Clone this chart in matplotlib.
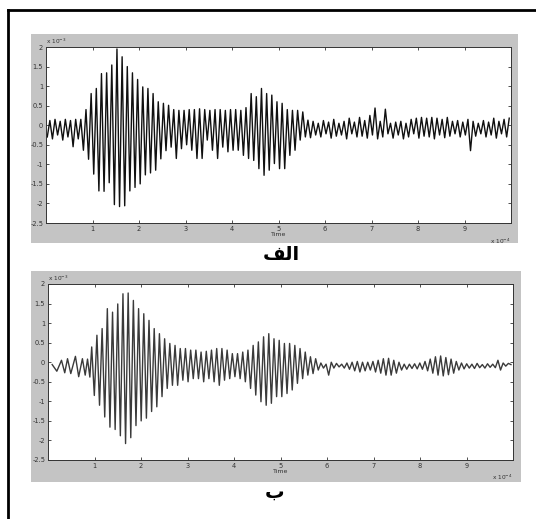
import numpy as np
import matplotlib
matplotlib.use('Agg')
import matplotlib.pyplot as plt
from matplotlib.patches import Rectangle
from matplotlib.lines import Line2D
from matplotlib.ticker import FormatStrFormatter

plt.rcParams['axes.unicode_minus'] = False
plt.rcParams['font.family'] = ['DejaVu Sans']

# x in units of 1e-4 s, y in units of 1e-3
x_ticks = [1, 2, 3, 4, 5, 6, 7, 8, 9]
y_ticks = [-2.5, -2, -1.5, -1, -0.5, 0, 0.5, 1, 1.5, 2]

# Arabic labels, written in presentation forms (visual order) since matplotlib does no shaping
label_top = '\uFED2\uFEDF\uFE8D'   # الف
label_bot = '\uFE8F'               # ب

# ---- panel (الف): raw record, one (trough, peak) pair per cycle ----
top_first = 0.0275
top_period = 0.111
top_lead = [(-0.30, 0.12), (-0.35, 0.15), (-0.25, 0.10), (-0.38, 0.15), (-0.30, 0.12),
            (-0.55, 0.15), (-0.35, 0.15)]
top_burst1 = [(-0.64, 0.40), (-0.87, 0.81), (-1.25, 0.94), (-1.68, 1.32), (-1.69, 1.34),
              (-1.47, 1.54), (-2.03, 1.95), (-2.08, 1.75), (-2.06, 1.50), (-1.68, 1.34),
              (-1.59, 1.17), (-1.50, 0.98), (-1.27, 0.94), (-1.22, 0.81), (-1.15, 0.60),
              (-0.86, 0.56), (-0.65, 0.51)]
top_mid = [(-0.56, 0.40), (-0.85, 0.38), (-0.60, 0.38), (-0.50, 0.40), (-0.64, 0.40),
           (-0.85, 0.42), (-0.85, 0.40), (-0.38, 0.38), (-0.64, 0.40), (-0.85, 0.40),
           (-0.56, 0.38), (-0.68, 0.40), (-0.64, 0.40), (-0.64, 0.38), (-0.77, 0.45)]
top_burst2 = [(-0.85, 0.81), (-0.90, 0.73), (-1.11, 0.94), (-1.28, 0.81), (-1.15, 0.77),
              (-0.98, 0.60), (-1.11, 0.56), (-1.11, 0.40), (-0.77, 0.38), (-0.64, 0.38),
              (-0.38, 0.34), (-0.30, 0.13)]
top_tail = [(-0.32, 0.10), (-0.25, 0.05), (-0.30, 0.12), (-0.22, 0.08), (-0.33, 0.15),
            (-0.28, 0.05), (-0.25, 0.10), (-0.35, 0.18), (-0.22, 0.08), (-0.30, 0.20),
            (-0.28, 0.12), (-0.33, 0.25), (-0.25, 0.44), (-0.35, 0.10), (-0.30, 0.41),
            (-0.22, 0.05), (-0.33, 0.08), (-0.25, 0.10), (-0.35, 0.05), (-0.30, 0.15),
            (-0.22, 0.18), (-0.33, 0.20), (-0.28, 0.18), (-0.30, 0.20), (-0.35, 0.18),
            (-0.25, 0.15), (-0.32, 0.20), (-0.28, 0.10), (-0.22, 0.12), (-0.30, 0.08),
            (-0.25, 0.15), (-0.65, 0.10), (-0.28, 0.05), (-0.22, 0.12), (-0.30, 0.08),
            (-0.25, 0.18), (-0.33, 0.10), (-0.22, 0.15), (-0.30, 0.18)]

# ---- panel (ب): filtered record, lead-in points then one (peak, trough) pair per cycle ----
bot_lead_t = [0.09, 0.19, 0.29, 0.36, 0.42, 0.49, 0.59, 0.66, 0.74, 0.80, 0.85, 0.90]
bot_lead_v = [-0.06, -0.23, 0.05, -0.27, 0.09, -0.29, 0.15, -0.37, 0.09, -0.33, 0.08, -0.38]
bot_first = 0.94
bot_period = 0.112
bot_burst1 = [(0.39, -0.85), (0.69, -1.10), (0.86, -1.40), (1.37, -1.66), (1.28, -1.72),
              (1.49, -1.88), (1.75, -2.08), (1.77, -1.93), (1.58, -1.62), (1.37, -1.50),
              (1.24, -1.43), (1.07, -1.26), (0.86, -1.14), (0.73, -0.88), (0.60, -0.67),
              (0.48, -0.59), (0.43, -0.59), (0.35, -0.46), (0.35, -0.50), (0.31, -0.42),
              (0.31, -0.42)]
bot_mid = [(0.26, -0.50), (0.28, -0.42), (0.31, -0.50), (0.35, -0.59), (0.35, -0.46),
           (0.31, -0.42), (0.22, -0.37), (0.22, -0.42), (0.26, -0.50), (0.31, -0.67)]
bot_burst2 = [(0.43, -0.84), (0.52, -1.01), (0.65, -1.10), (0.73, -1.05), (0.60, -0.88),
              (0.56, -0.88), (0.48, -0.80), (0.48, -0.71), (0.43, -0.54), (0.35, -0.42),
              (0.26, -0.33), (0.14, -0.29), (0.09, -0.20)]
bot_tail = [(-0.02, -0.15), (-0.05, -0.33), (0.00, -0.15), (-0.03, -0.12), (-0.05, -0.15),
            (-0.02, -0.18), (0.00, -0.22), (0.02, -0.25), (0.00, -0.22), (0.00, -0.20),
            (0.02, -0.25), (0.05, -0.28), (0.09, -0.33), (0.10, -0.33), (0.05, -0.28),
            (0.00, -0.20), (-0.05, -0.18), (-0.05, -0.16), (-0.04, -0.17), (-0.02, -0.18),
            (0.02, -0.22), (0.08, -0.28), (0.14, -0.33), (0.16, -0.35), (0.12, -0.32),
            (0.08, -0.28), (0.02, -0.20), (-0.02, -0.17), (-0.04, -0.15), (-0.05, -0.16),
            (-0.03, -0.14), (-0.06, -0.15), (-0.04, -0.13), (-0.05, -0.14), (0.05, -0.20),
            (-0.02, -0.10), (-0.03, -0.06)]

top_y = np.array(top_lead + top_burst1 + top_mid + top_burst2 + top_tail).ravel()
top_t = top_first + np.arange(len(top_y)) * top_period / 2

bot_c = np.array(bot_burst1 + bot_mid + bot_burst2 + bot_tail).ravel()
bot_t = np.concatenate([bot_lead_t, bot_first + np.arange(len(bot_c)) * bot_period / 2])
bot_y = np.concatenate([bot_lead_v, bot_c])

W, H = 536, 519
fig = plt.figure(figsize=(W / 100, H / 100), dpi=100)
fig.patch.set_facecolor('white')

def px(x0, y0, x1, y1):
    # pixel box (top-left origin) -> figure fraction [left, bottom, width, height]
    return [x0 / W, 1 - y1 / H, (x1 - x0) / W, (y1 - y0) / H]

# outer frame (only top and left edges fall inside the picture)
fig.add_artist(Line2D([8 / W, 8 / W], [0, 1 - 10 / H], color='black', lw=2))
fig.add_artist(Line2D([8 / W, 1], [1 - 10 / H, 1 - 10 / H], color='black', lw=2))

# grey figure backgrounds (MATLAB style)
for box in [(31, 34, 518, 243), (31, 271, 521, 482)]:
    l, b, w, h = px(*box)
    fig.patches.append(Rectangle((l, b), w, h, transform=fig.transFigure,
                                 facecolor='#c4c4c4', edgecolor='none', zorder=-5))

panels = [
    (px(46, 47, 511, 223), top_t, top_y, '#101010', 1.0, label_top, (281, 255)),
    (px(48, 284, 513, 460), bot_t, bot_y, '#3a3a3a', 1.0, label_bot, (275, 492)),
]

for rect, t, y, col, lw, lab, lab_xy in panels:
    ax = fig.add_axes(rect)
    ax.set_zorder(2)
    ax.set_facecolor('white')
    ax.plot(t, y, color=col, lw=lw)
    ax.set_xlim(0, 10)
    ax.set_ylim(-2.5, 2)
    ax.set_xticks(x_ticks)
    ax.set_yticks(y_ticks)
    ax.yaxis.set_major_formatter(FormatStrFormatter('%g'))
    ax.tick_params(direction='in', top=True, right=True, length=2.5, width=0.6,
                   labelsize=4.8, pad=2, colors='#333333')
    for s in ax.spines.values():
        s.set_linewidth(0.7)
        s.set_color('#333333')
    ax.set_xlabel('Time', fontsize=4.5, labelpad=0.5, color='#333333')
    ax.text(0.0, 1.005, r'x 10$^{-3}$', transform=ax.transAxes, fontsize=4.2,
            ha='left', va='bottom', color='#333333')
    ax.text(1.0, -0.075, r'x 10$^{-4}$', transform=ax.transAxes, fontsize=4.2,
            ha='right', va='top', color='#333333')
    fig.text(lab_xy[0] / W, 1 - lab_xy[1] / H, lab, ha='center', va='center',
             fontsize=14, fontweight='bold', color='black', zorder=3)

fig.savefig('out.png', dpi=100)
